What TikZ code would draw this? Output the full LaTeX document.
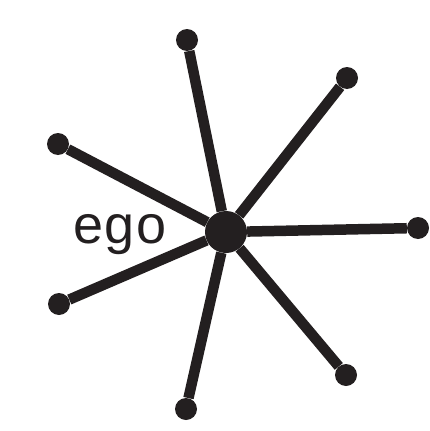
\documentclass[tikz,border=0pt]{standalone}
\usepackage{fontspec}
\setmainfont{Liberation Sans}[LetterSpace=3]
\usepackage{tikz}
\definecolor{ink}{HTML}{231F20}

\begin{document}
\begin{tikzpicture}[x=1pt,y=-1pt]
\useasboundingbox (0,0) rectangle (429,431);
\tikzstyle{every node}=[fill=ink,circle,minimum size=22pt,inner sep=0pt]
    \node[minimum size=42pt](v0) at (226,232){};
    \node(v1) at (187,40){};
    \node(v2) at (347,78){};
    \node(v3) at (58,144){};
    \node(v4) at (418,228){};
    \node(v5) at (59,304){};
    \node(v6) at (346,375){};
    \node(v7) at (186,409){};
    \draw[ink,line width=10.5pt](v0)--(v1);
    \draw[ink,line width=10.5pt](v0)--(v2);
    \draw[ink,line width=10.5pt](v0)--(v3);
    \draw[ink,line width=10.5pt](v0)--(v4);
    \draw[ink,line width=10.5pt](v0)--(v5);
    \draw[ink,line width=10.5pt](v0)--(v6);
    \draw[ink,line width=10.5pt](v0)--(v7);
  \tikzstyle{every node}=[]
    \node[ink,font=\fontsize{54}{54}\selectfont,anchor=base](lab) at (120,243){ego};
\end{tikzpicture}
\end{document}
